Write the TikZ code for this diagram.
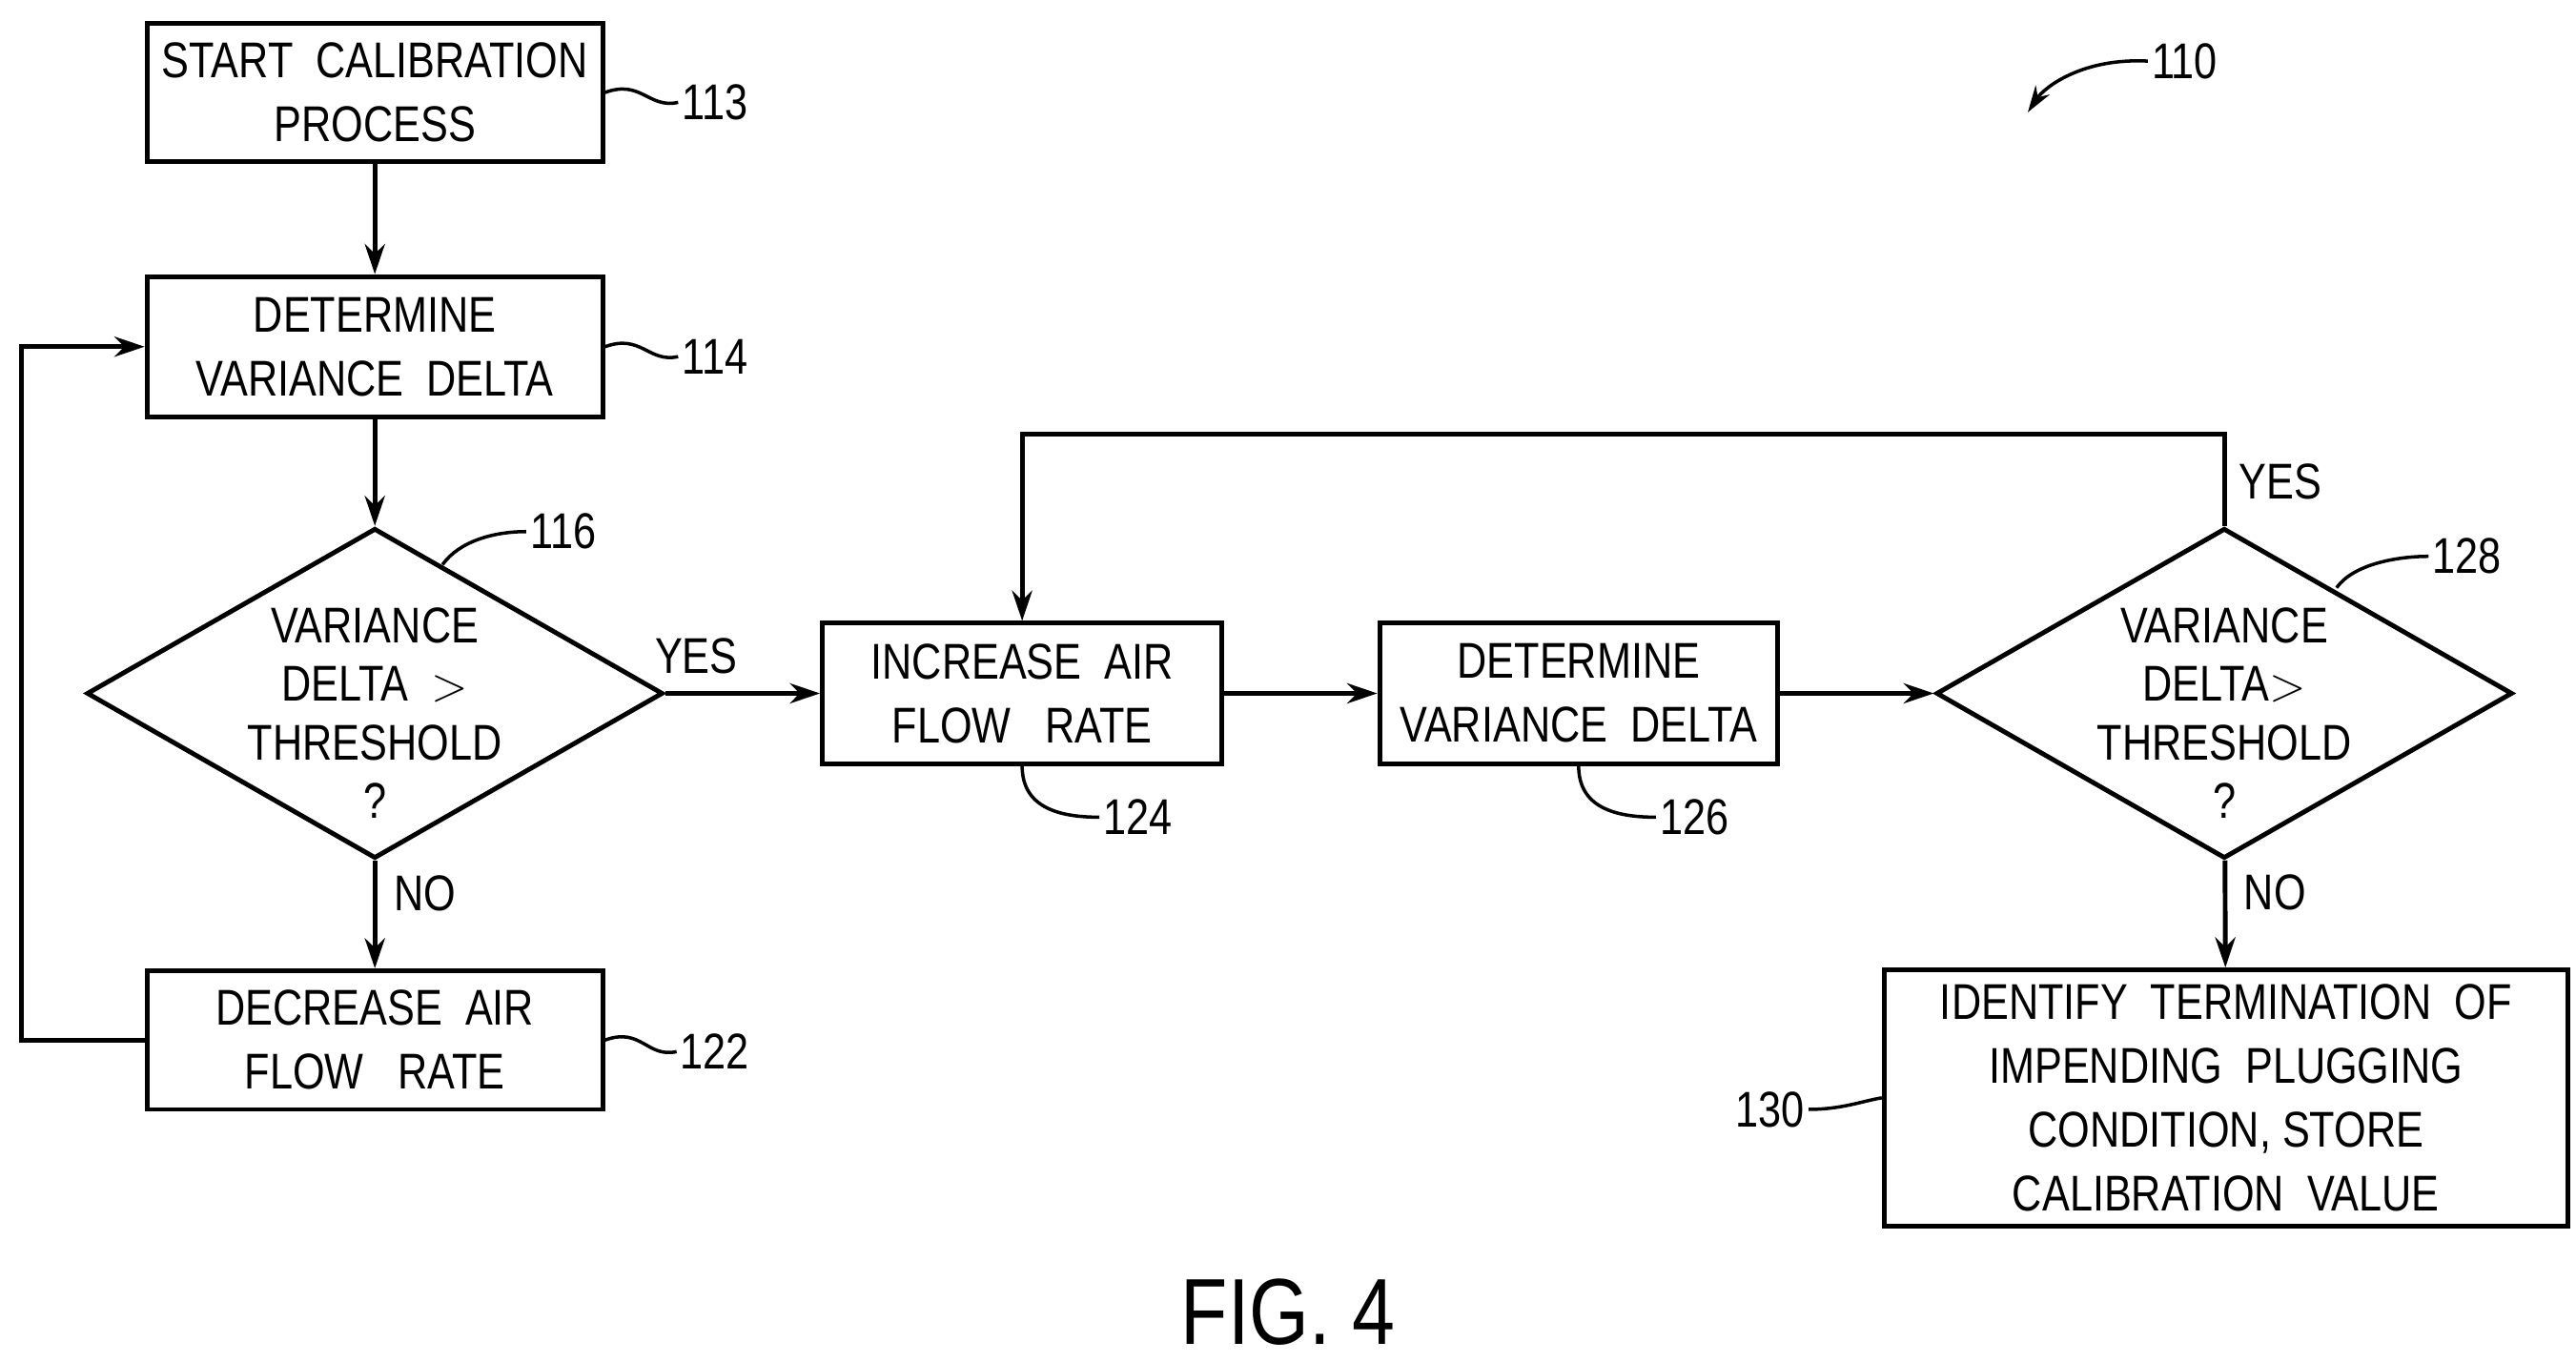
\documentclass[tikz,border=0pt]{standalone}
\usepackage{fontspec}
\setmainfont{Liberation Sans}[FakeStretch=0.82]
\usetikzlibrary{shapes.geometric,positioning,arrows.meta}
\newcommand{\pu}{0.01732cm}
\tikzset{
  box/.style={draw, line width=1.4pt, inner sep=0pt, align=center, font=\fontsize{15}{19}\selectfont},
  dia/.style={draw, diamond, line width=1.4pt, inner sep=0pt, minimum width=349*\pu, minimum height=200*\pu},
  diatext/.style={label={[align=center, yshift=-12*\pu, font=\fontsize{15}{17.5}\selectfont]center:#1}},
  lbl/.style={font=\fontsize{15}{18}\selectfont, inner sep=1pt},
  flow/.style={line width=1.4pt, -{Stealth[length=9pt,width=6pt]}},
  lead/.style={line width=1pt}
}
\begin{document}
\begin{tikzpicture}[x=0.01732cm, y=-0.01732cm]
  \useasboundingbox (0,0) rectangle (1560,824.5);

  \node[box, minimum width=276*\pu, minimum height=84*\pu] (start) at (227,56) {START\ \ CALIBRATION\\PROCESS};
  \node[box, minimum width=276*\pu, minimum height=85*\pu] (det1) at (227,210) {DETERMINE\\VARIANCE\ \ DELTA};
  \node[dia, diatext={VARIANCE\\DELTA\ \ $>$\\THRESHOLD\\?}] (dia1) at (227,420) {};
  \node[box, minimum width=276*\pu, minimum height=84*\pu] (dec) at (227,630) {DECREASE\ \ AIR\\FLOW\ \ \ RATE};
  \node[box, minimum width=242*\pu, minimum height=85*\pu] (inc) at (619,420) {INCREASE\ \ AIR\\FLOW\ \ \ RATE};
  \node[box, minimum width=241*\pu, minimum height=85*\pu] (det2) at (956,420) {DETERMINE\\VARIANCE\ \ DELTA};
  \node[dia, diatext={VARIANCE\\DELTA$>$\\THRESHOLD\\?}] (dia2) at (1347,420) {};
  \node[box, minimum width=414*\pu, minimum height=155*\pu] (ident) at (1348,665) {IDENTIFY\ \ TERMINATION\ \ OF\\IMPENDING\ \ PLUGGING\\CONDITION,\ STORE\\CALIBRATION\ \ VALUE};

  \coordinate (c1) at (13,630);
  \coordinate (c2) at (13,210);
  \coordinate (c3) at (1347,263);
  \coordinate (c4) at (619,263);

  \draw[flow] (start) -- (det1);
  \draw[flow] (det1) -- (dia1);
  \draw[flow] (dia1) -- node[lbl, right=4pt, pos=0.3] {NO} (dec);
  \draw[flow] (dia1) -- node[lbl, above=4pt, pos=0.2] {YES} (inc);
  \draw[flow] (inc) -- (det2);
  \draw[flow] (det2) -- (dia2);
  \draw[flow] (dia2) -- node[lbl, right=4pt, pos=0.3] {NO} (ident);
  \draw[flow] (dec.west) -- (c1) -- (c2) -- (det1.west);
  \draw[flow] (dia2.north) -- (c3) -- (c4) -- (inc.north);
  \node[lbl] (yes2) at (1381,292) {YES};

  % reference numerals
  \node[lbl] (n113) at (433,62) {113};
  \node[lbl] (n114) at (433,216) {114};
  \node[lbl] (n116) at (341,322) {116};
  \node[lbl] (n122) at (433,637) {122};
  \node[lbl] (n124) at (689,495) {124};
  \node[lbl] (n126) at (1026,495) {126};
  \node[lbl] (n128) at (1494,337) {128};
  \node[lbl] (n130) at (1072,672) {130};
  \node[lbl] (n110) at (1323,37) {110};
  \node[font=\fontsize{28}{32}\selectfont] (fig) at (780,795) {FIG. 4};

  \coordinate (p116) at (268,342);
  \coordinate (p128) at (1415,356);
  \coordinate (p110) at (1228,68);

  \draw[lead] (start.east) .. controls +(22,-8) and +(-18,4) .. (n113.west);
  \draw[lead] (det1.east) .. controls +(22,-8) and +(-18,4) .. (n114.west);
  \draw[lead] (dec.east) .. controls +(22,-8) and +(-18,4) .. (n122.west);
  \draw[lead] (p116) .. controls +(10,-14) and +(-20,0) .. (n116.west);
  \draw[lead] (p128) .. controls +(10,-14) and +(-20,0) .. (n128.west);
  \draw[lead] (inc.south) .. controls +(0,25) and +(-25,0) .. (n124.west);
  \draw[lead] (det2.south) .. controls +(0,25) and +(-25,0) .. (n126.west);
  \draw[lead] (n130.east) .. controls +(20,0) and +(-12,2) .. (ident.west);
  \draw[lead, -{Stealth[length=8pt,width=5pt]}] (n110.west) .. controls +(-40,-2) and +(10,-15) .. (p110);
\end{tikzpicture}
\end{document}
